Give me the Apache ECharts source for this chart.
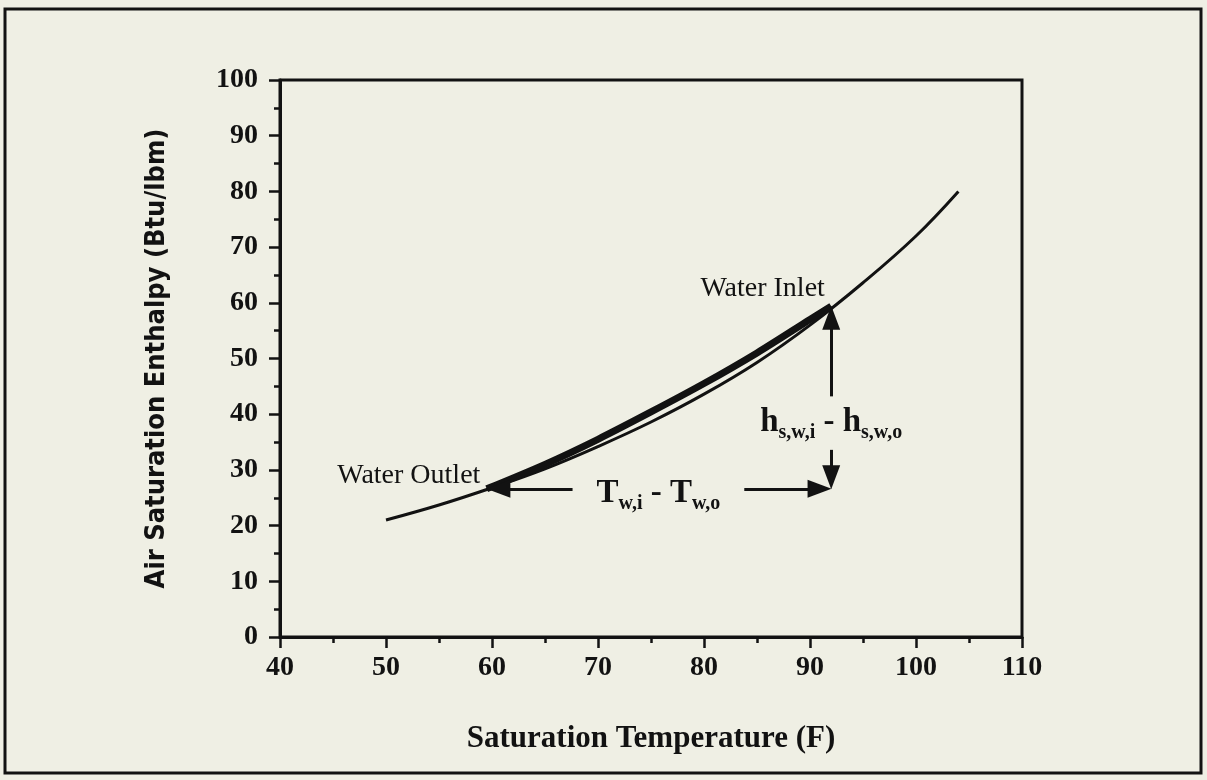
<!DOCTYPE html>
<html><head><meta charset="utf-8">
<script src="https://cdn.jsdelivr.net/npm/echarts@6/dist/echarts.min.js"></script>
<style>html,body{margin:0;padding:0;background:#efefe4;} #c{width:1207px;height:780px;}</style>
</head><body><div id="c"></div><script>
// Saturation curve
const satTemps    = [50, 55, 60, 65, 70, 75, 80, 85, 90, 95, 100, 104];
const satEnthalpy = [21, 23.7, 26.8, 30.2, 34.2, 38.6, 43.6, 49.3, 56, 63.6, 72, 80];
// Thick operating segment between outlet and inlet
const opTemps     = [59.5, 65, 70, 75, 80, 85, 90, 92];
const opEnthalpy  = [26.6, 31.0, 35.5, 40.4, 45.5, 51.0, 57.0, 59.4];
// Key points
const outletPoint = [59.5, 26.6];
const inletPoint  = [92, 59.4];
const xTickValues = [40, 50, 60, 70, 80, 90, 100, 110];
const yTickValues = [0, 10, 20, 30, 40, 50, 60, 70, 80, 90, 100];
const labelTexts  = ['Water Outlet', 'Water Inlet'];

const ink = '#121212';
const serif = "'Liberation Serif', 'DejaVu Serif', serif";

const satData = satTemps.map((t, i) => [t, satEnthalpy[i]]);
const opData = opTemps.map((t, i) => [t, opEnthalpy[i]]);

const chart = echarts.init(document.getElementById('c'), null, {renderer: 'canvas'});

const axisCommon = {
  type: 'value',
  interval: 10,
  axisLine: {show: true, onZero: false, lineStyle: {color: ink, width: 3}},
  axisTick: {show: true, inside: false, length: 11, lineStyle: {color: ink, width: 2.5}},
  minorTick: {show: true, splitNumber: 2, length: 6, lineStyle: {color: ink, width: 2.5}},
  splitLine: {show: false},
  minorSplitLine: {show: false},
  axisLabel: {fontFamily: serif, fontWeight: 'bold', fontSize: 28, color: ink},
  nameLocation: 'middle'
};

const hx = inletPoint[0], hy = outletPoint[1];

chart.setOption({
  animation: false,
  backgroundColor: '#efefe4',
  grid: {left: 280, right: 185, top: 80, bottom: 143, show: true, borderColor: ink, borderWidth: 3, backgroundColor: 'transparent'},
  xAxis: Object.assign({}, axisCommon, {
    min: 40, max: 110,
    axisLabel: Object.assign({}, axisCommon.axisLabel, {margin: 17}),
    name: 'Saturation Temperature (F)',
    nameGap: 86,
    nameTextStyle: {fontFamily: serif, fontWeight: 'bold', fontSize: 31, color: ink}
  }),
  yAxis: Object.assign({}, axisCommon, {
    min: 0, max: 100,
    axisLabel: Object.assign({}, axisCommon.axisLabel, {margin: 22}),
    name: 'Air Saturation Enthalpy (Btu/lbm)',
    nameGap: 110,
    nameTextStyle: {fontFamily: "'Liberation Sans Narrow', 'DejaVu Sans Condensed', sans-serif", fontWeight: 'bold', fontSize: 27, color: ink}
  }),
  graphic: [{
    type: 'rect', silent: true,
    shape: {x: 5, y: 9, width: 1196, height: 764},
    style: {fill: 'none', stroke: ink, lineWidth: 3}
  }],
  series: [
    {
      type: 'line', data: satData, smooth: 0.4, showSymbol: false, symbol: 'none',
      lineStyle: {color: ink, width: 3}, z: 3
    },
    {
      type: 'line', data: opData, smooth: 0.3, showSymbol: false, symbol: 'none',
      lineStyle: {color: ink, width: 7}, z: 4
    },
    {
      type: 'line', data: [], z: 5,
      markLine: {
        silent: true, animation: false,
        symbol: ['none', 'triangle'], symbolSize: [18, 24],
        label: {show: false},
        lineStyle: {color: ink, width: 3, type: 'solid', opacity: 1},
        emphasis: {disabled: true},
        data: [
          [{coord: [67.6, hy]}, {coord: [outletPoint[0] + 1.1, hy]}],
          [{coord: [83.8, hy]}, {coord: [hx - 1.1, hy]}],
          [{coord: [hx, 33.6]}, {coord: [hx, hy + 2.1]}],
          [{coord: [hx, 43.2]}, {coord: [hx, inletPoint[1] - 2.1]}]
        ]
      }
    },
    {
      type: 'scatter', symbolSize: 0, silent: true, z: 6,
      itemStyle: {opacity: 1},
      data: [
        {value: [outletPoint[0] - 0.6, outletPoint[1] + 2.4], label: {show: true, position: 'left', distance: 0, formatter: labelTexts[0]}},
        {value: [inletPoint[0] - 0.6, inletPoint[1] + 3.2], label: {show: true, position: 'left', distance: 0, formatter: labelTexts[1]}},
        {value: [75.7, hy - 0.7], label: {show: true, position: 'inside', formatter: '{m|T}{s|w,i}{m| - T}{s|w,o}'}},
        {value: [hx, 38.6], label: {show: true, position: 'inside', formatter: '{m|h}{s|s,w,i}{m| - h}{s|s,w,o}'}}
      ],
      label: {
        fontFamily: serif, fontSize: 28, color: ink, opacity: 1,
        rich: {
          m: {fontFamily: serif, fontSize: 33, fontWeight: 'bold', color: ink, lineHeight: 32, verticalAlign: 'top'},
          s: {fontFamily: serif, fontSize: 20, fontWeight: 'bold', color: ink, lineHeight: 20, verticalAlign: 'top', padding: [17, 0, 0, 0]}
        }
      }
    }
  ]
});
</script></body></html>
